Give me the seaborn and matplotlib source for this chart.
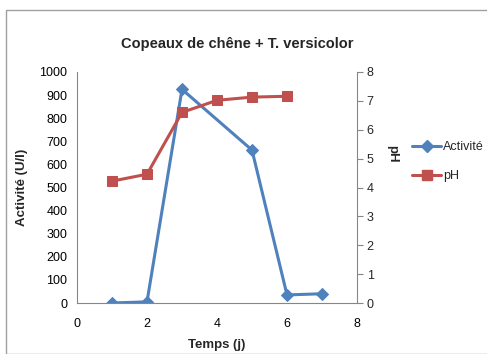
import matplotlib
matplotlib.use("Agg")
import matplotlib.pyplot as plt
import seaborn as sns
import pandas as pd
from matplotlib.patches import Rectangle
from matplotlib.lines import Line2D

days_act = [1, 2, 3, 5, 6, 7]
activite = [0, 5, 925, 662, 35, 40]
days_ph = [1, 2, 3, 4, 5, 6]
ph = [4.22, 4.46, 6.6, 7.02, 7.13, 7.16]

sns.set_style("white")
plt.rcParams['font.family'] = ['Liberation Sans', 'DejaVu Sans']

blue = "#4F81BD"
red = "#C0504D"
grey = "#868686"

fig = plt.figure(figsize=(4.87, 3.54), dpi=100)
fig.patches.append(Rectangle((6/487, 0), 1.0, 1 - 10/354, transform=fig.transFigure,
                             fill=False, edgecolor="#A0A0A0", lw=1.0))
ax = fig.add_axes([77/487, 1 - 303/354, 280/487, 231/354])
ax2 = ax.twinx()

df1 = pd.DataFrame({"x": days_act, "y": activite})
df2 = pd.DataFrame({"x": days_ph, "y": ph})
sns.lineplot(data=df1, x="x", y="y", ax=ax, color=blue, marker="D", markersize=6,
             markeredgecolor=blue, lw=2.2)
sns.lineplot(data=df2, x="x", y="y", ax=ax2, color=red, marker="s", markersize=7,
             markeredgecolor=red, lw=2.2)

ax.set_xlim(0, 8)
ax.set_ylim(0, 1000)
ax2.set_ylim(0, 8)
ax.set_xticks([0, 2, 4, 6, 8])
ax.set_yticks(range(0, 1001, 100))
ax2.set_yticks(range(0, 9))

for a in (ax, ax2):
    for s in a.spines.values():
        s.set_visible(False)
ax.spines['left'].set_visible(True)
ax.spines['left'].set_color(grey)
ax.spines['bottom'].set_visible(True)
ax.spines['bottom'].set_color(grey)
ax2.spines['right'].set_visible(True)
ax2.spines['right'].set_color(grey)

ax.tick_params(axis='both', labelsize=9, length=0, colors="black", pad=7)
ax.tick_params(axis='x', pad=11)
ax2.tick_params(axis='y', labelsize=9, length=4, color=grey, direction='out', pad=3)

ax.set_xlabel("Temps (j)", fontsize=9.5, fontweight='bold', labelpad=6)
ax.set_ylabel("Activité (U/l)", fontsize=9.5, fontweight='bold', labelpad=8)
ax2.set_ylabel("pH", fontsize=9.5, fontweight='bold', rotation=270, va='center')
ax2.yaxis.set_label_coords(1.125, 0.645)
fig.text(237/487, 1 - 44/354, "Copeaux de chêne + T. versicolor", fontsize=10.5,
         fontweight='bold', ha='center', va='center')

handles = [Line2D([], [], color=blue, marker="D", markersize=6, lw=2.2),
           Line2D([], [], color=red, marker="s", markersize=7, lw=2.2)]
fig.legend(handles, ["Activité", "pH"], loc="upper left",
           bbox_to_anchor=(406/487, 1 - 135/354), frameon=False, fontsize=9,
           handlelength=2.3, handletextpad=0.15, labelspacing=1.35, borderpad=0)

fig.savefig("out.png", dpi=100)
